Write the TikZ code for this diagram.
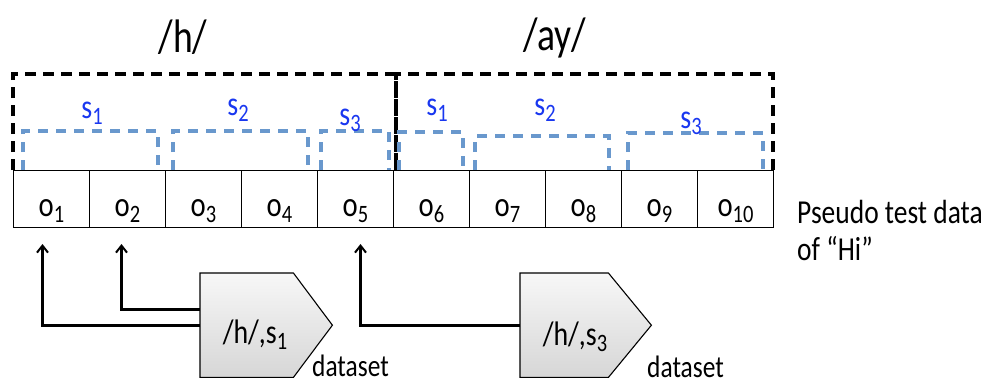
\documentclass[tikz,border=0pt]{standalone}
\usepackage{fontspec}
\setmainfont{Carlito}[FakeStretch=0.82]
\newfontfamily\titlefont{Carlito}[FakeStretch=0.8]
\usetikzlibrary{arrows.meta}
\definecolor{sblue}{RGB}{25,55,240}
\definecolor{dblue}{RGB}{105,152,205}
\newcommand\sbs[1]{\raisebox{-6pt}{\fontsize{25}{25}\selectfont #1}}
\begin{document}
\begin{tikzpicture}[x=1pt,y=-1pt,
  cell/.style={draw, line width=1pt, minimum width=76pt, minimum height=57pt,
    anchor=north west, inner sep=0pt, text height=34pt, text depth=0pt,
    font=\fontsize{35}{35}\selectfont},
  bdash/.style={line width=3.3pt, dash pattern=on 11pt off 7pt},
  udash/.style={dblue, line width=3.3pt, dash pattern=on 10pt off 8pt},
  slab/.style={anchor=base, sblue, inner sep=0pt, font=\fontsize{34}{34}\selectfont},
  title/.style={anchor=base, inner sep=0pt, font=\titlefont\fontsize{47}{47}\selectfont},
  body/.style={anchor=north west, inner sep=0pt, minimum height=104pt},
  pent/.style={draw, line width=1.1pt, top color=gray!6, bottom color=gray!32},
  txt/.style={inner sep=0pt, font=\fontsize{34}{34}\selectfont},
  arr/.style={line width=2.6pt, -{Straight Barb[length=7pt,width=11pt,line width=2pt]}}
]
\useasboundingbox (0,0) rectangle (992,383);

% titles
\node[title] (th) at (183,52) {/h/};
\node[title] (ta) at (555,50) {/ay/};

% cells
\foreach \i in {1,...,10}
  \node[cell] (c\i) at ({13+76*(\i-1)},170) {o\sbs{\i}};

% phoneme boxes
\draw[bdash] (13,170) -- (13,74) -- (396,74) -- (396,170);
\draw[bdash] (396,170) -- (396,74) -- (773,74) -- (773,170);

% state brackets
\foreach \a/\b/\t in {23/158/131, 173/308/131, 321/389/131, 399/463/132, 475/609/136, 628/763/133}
  \draw[udash] (\a,170) -- (\a,\t) -- (\b,\t) -- (\b,170);

% state labels
\node[slab] (hs1) at (92,118) {s\sbs{1}};
\node[slab] (hs2) at (238,115) {s\sbs{2}};
\node[slab] (hs3) at (350,125) {s\sbs{3}};
\node[slab] (as1) at (437,115) {s\sbs{1}};
\node[slab] (as2) at (545,115) {s\sbs{2}};
\node[slab] (as3) at (691,128) {s\sbs{3}};

% side text
\node[txt, anchor=base west, font=\fontsize{33.5}{33.5}\selectfont] (ps1) at (797,223) {Pseudo test data};
\node[txt, anchor=base west, font=\fontsize{33.5}{33.5}\selectfont] (ps2) at (797,260) {of “Hi”};

% datasets
\node[body, minimum width=93pt] (p1) at (200,273) {};
\draw[pent] (p1.north west) -- (p1.north east) -- ([xshift=39pt]p1.east) -- (p1.south east) -- (p1.south west) -- cycle;
\node[txt, anchor=base] (l1) at (255,343) {/h/,s\sbs{1}};
\node[txt, anchor=base west, font=\fontsize{31}{31}\selectfont] (d1) at (312,376) {dataset};

\node[body, minimum width=88pt] (p2) at (520,273) {};
\draw[pent] (p2.north west) -- (p2.north east) -- ([xshift=43pt]p2.east) -- (p2.south east) -- (p2.south west) -- cycle;
\node[txt, anchor=base] (l2) at (575,345) {/h/,s\sbs{3}};
\node[txt, anchor=base west, font=\fontsize{31}{31}\selectfont] (d2) at (647,377) {dataset};

% arrows
\draw[arr] (p1.west) -| ([xshift=-9pt,yshift=-16pt]c1.south);
\draw[arr] ([yshift=16pt]p1.west) -| ([xshift=-6pt,yshift=-16pt]c2.south);
\draw[arr] (p2.west) -| ([xshift=5pt,yshift=-16pt]c5.south);
\end{tikzpicture}
\end{document}
